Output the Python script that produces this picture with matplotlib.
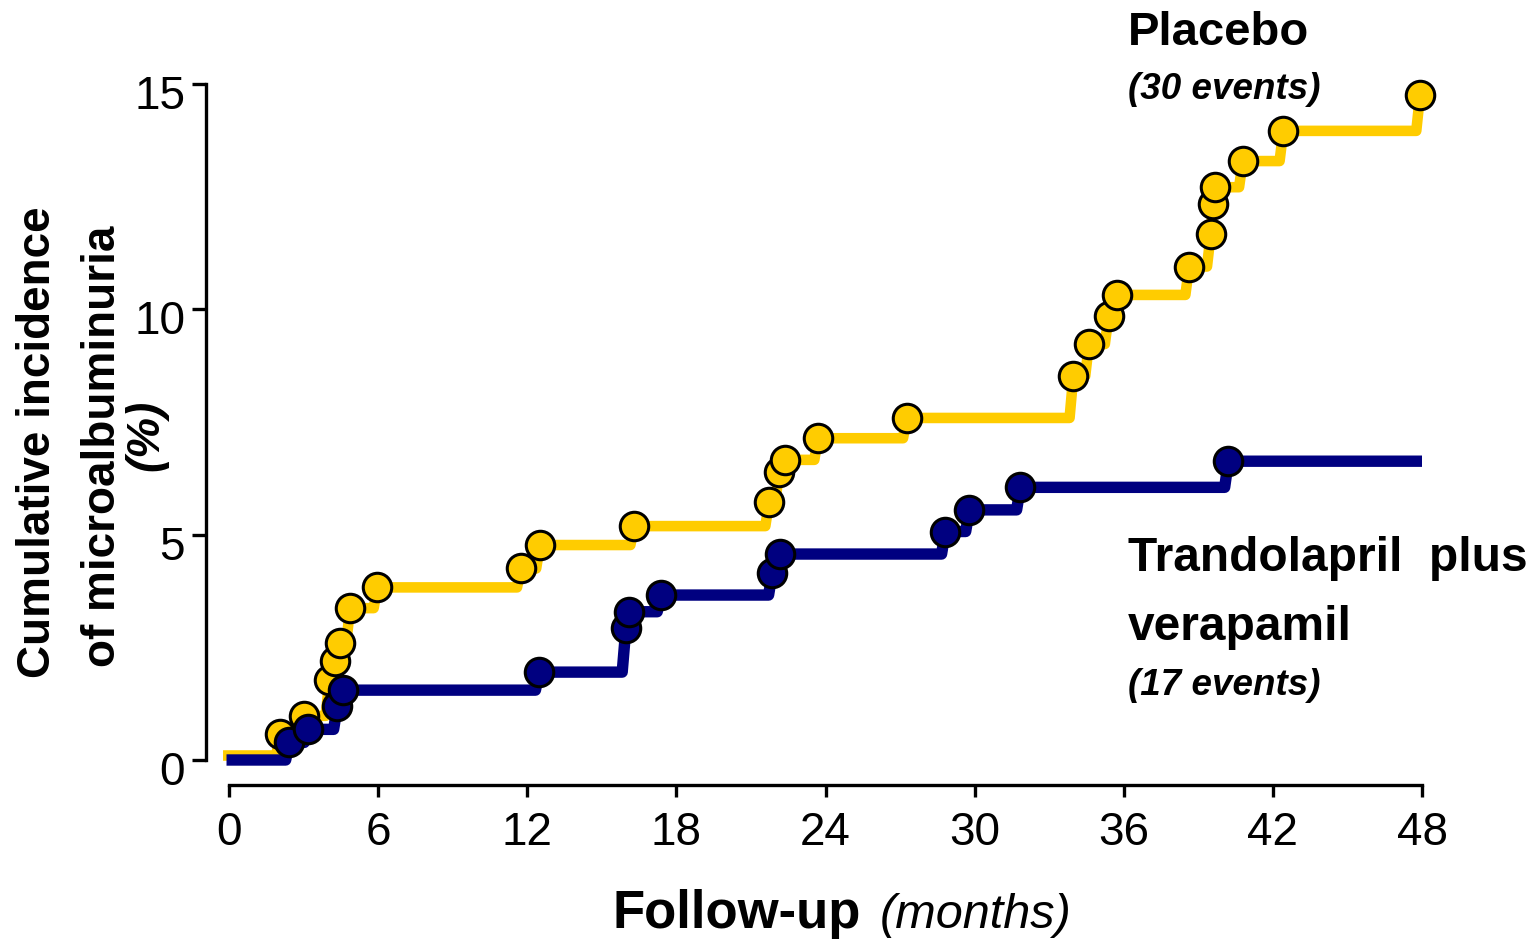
import matplotlib
matplotlib.use('Agg')
import matplotlib.pyplot as plt
import matplotlib.transforms as mtransforms

plt.rcParams['font.family'] = ['Liberation Sans', 'DejaVu Sans']

# Placebo events (months, cumulative %)
placebo_t = [2.05, 3.02, 4.04, 4.25, 4.47, 4.87, 5.97, 11.74, 12.51, 16.30,
             21.73, 22.13, 22.37, 23.70, 27.27, 33.97, 34.60, 35.39, 35.72,
             38.63, 39.50, 39.60, 39.68, 40.79, 42.42, 47.92]
placebo_y = [0.57, 0.98, 1.78, 2.20, 2.60, 3.37, 3.83, 4.25, 4.77, 5.19,
             5.72, 6.38, 6.66, 7.14, 7.59, 8.52, 9.23, 9.85, 10.32,
             10.95, 11.67, 12.34, 12.71, 13.29, 13.96, 14.75]
placebo_start = (-0.24, 0.10)
placebo_end = 48.5

# Trandolapril plus verapamil events
combo_t = [2.43, 3.18, 4.36, 4.60, 12.48, 15.97, 16.10, 17.38, 21.86, 22.17,
           28.82, 29.79, 31.84, 40.21]
combo_y = [0.39, 0.68, 1.20, 1.55, 1.95, 2.94, 3.29, 3.66, 4.16, 4.57,
           5.07, 5.55, 6.05, 6.63]
combo_start = (-0.10, 0.0)
combo_end = 48.0

x_ticks = [0, 6, 12, 18, 24, 30, 36, 42, 48]
y_ticks = [0, 5, 10, 15]

YELLOW = '#FFCC00'
NAVY = '#000080'

W, H = 1536, 944
fig = plt.figure(figsize=(W / 100, H / 100), dpi=100)

# pixel mapping of the data axes
X0, X48 = 229, 1422
Y0, Y15 = 760, 84
ppx = (X48 - X0) / 48.0
ppy = (Y0 - Y15) / 15.0
xlim = (-1.2, 48.9)
ylim = (-0.8, 15.3)
left = (X0 + xlim[0] * ppx) / W
right = (X0 + xlim[1] * ppx) / W
bottom = 1 - (Y0 - ylim[0] * ppy) / H
top = 1 - (Y0 - ylim[1] * ppy) / H
ax = fig.add_axes([left, bottom, right - left, top - bottom])
ax.set_xlim(*xlim)
ax.set_ylim(*ylim)


def step_path(start, ts, ys, end, d=0.15):
    xs, vs = [start[0]], [start[1]]
    prev_t, prev_y = start[0], start[1]
    for t, y in zip(ts, ys):
        xs.append(max(prev_t, t - d))
        vs.append(prev_y)
        xs.append(t)
        vs.append(y)
        prev_t, prev_y = t, y
    xs.append(end)
    vs.append(prev_y)
    return xs, vs


px, py = step_path(placebo_start, placebo_t, placebo_y, placebo_end)
cx, cy = step_path(combo_start, combo_t, combo_y, combo_end)

ax.plot(px, py, color=YELLOW, lw=7.6, solid_joinstyle='round',
        solid_capstyle='butt', zorder=2, clip_on=False)
ax.plot(placebo_t, placebo_y, 'o', ms=20.5, mfc=YELLOW, mec='black',
        mew=2.2, zorder=3, clip_on=False)
ax.plot(cx, cy, color=NAVY, lw=8.2, solid_joinstyle='round',
        solid_capstyle='butt', zorder=4, clip_on=False)
ax.plot(combo_t, combo_y, 'o', ms=20.5, mfc=NAVY, mec='black',
        mew=2.2, zorder=5, clip_on=False)

# axes styling
for s in ['top', 'right']:
    ax.spines[s].set_visible(False)
ax.spines['left'].set_position(('data', (206 - X0) / ppx))
ax.spines['bottom'].set_position(('data', (Y0 - 785) / ppy))
ax.spines['left'].set_bounds(0, 15)
ax.spines['bottom'].set_bounds(0, 48)
for s in ['left', 'bottom']:
    ax.spines[s].set_linewidth(2.4)
ax.set_xticks(x_ticks)
ax.set_yticks(y_ticks)
ax.tick_params(axis='x', length=8.6, width=2.4, labelsize=33, pad=10)
ax.tick_params(axis='y', length=10, width=2.4, labelsize=33, pad=5)
offset = mtransforms.ScaledTranslation(0, -8 / 100, fig.dpi_scale_trans)
for lab in ax.get_yticklabels():
    lab.set_transform(lab.get_transform() + offset)


def ftext(x, y, s, **kw):
    fig.text(x / W, 1 - y / H, s, **kw)


# y label (three lines, rotated)
ftext(50, 442, 'Cumulative incidence', rotation=90, rotation_mode='anchor',
      ha='center', va='baseline', fontsize=33, fontweight='bold')
ftext(115, 446, 'of microalbuminuria', rotation=90, rotation_mode='anchor',
      ha='center', va='baseline', fontsize=33, fontweight='bold')
ftext(158, 435, '(%)', rotation=90, rotation_mode='anchor',
      ha='center', va='baseline', fontsize=33, fontweight='bold',
      fontstyle='italic')

# x label
ftext(612, 928, 'Follow-up', ha='left', va='baseline', fontsize=38,
      fontweight='bold')
ftext(880, 928, '(months)', ha='left', va='baseline', fontsize=35,
      fontstyle='italic')

# group labels
ftext(1128, 45, 'Placebo', ha='left', va='baseline', fontsize=34,
      fontweight='bold')
ftext(1128, 99, '(30 events)', ha='left', va='baseline', fontsize=26.5,
      fontweight='bold', fontstyle='italic')
ftext(1128, 571, 'Trandolapril  plus', ha='left', va='baseline', fontsize=34.5,
      fontweight='bold')
ftext(1128, 640, 'verapamil', ha='left', va='baseline', fontsize=34.5,
      fontweight='bold')
ftext(1128, 695, '(17 events)', ha='left', va='baseline', fontsize=26.5,
      fontweight='bold', fontstyle='italic')

fig.savefig('out.png', dpi=100)
